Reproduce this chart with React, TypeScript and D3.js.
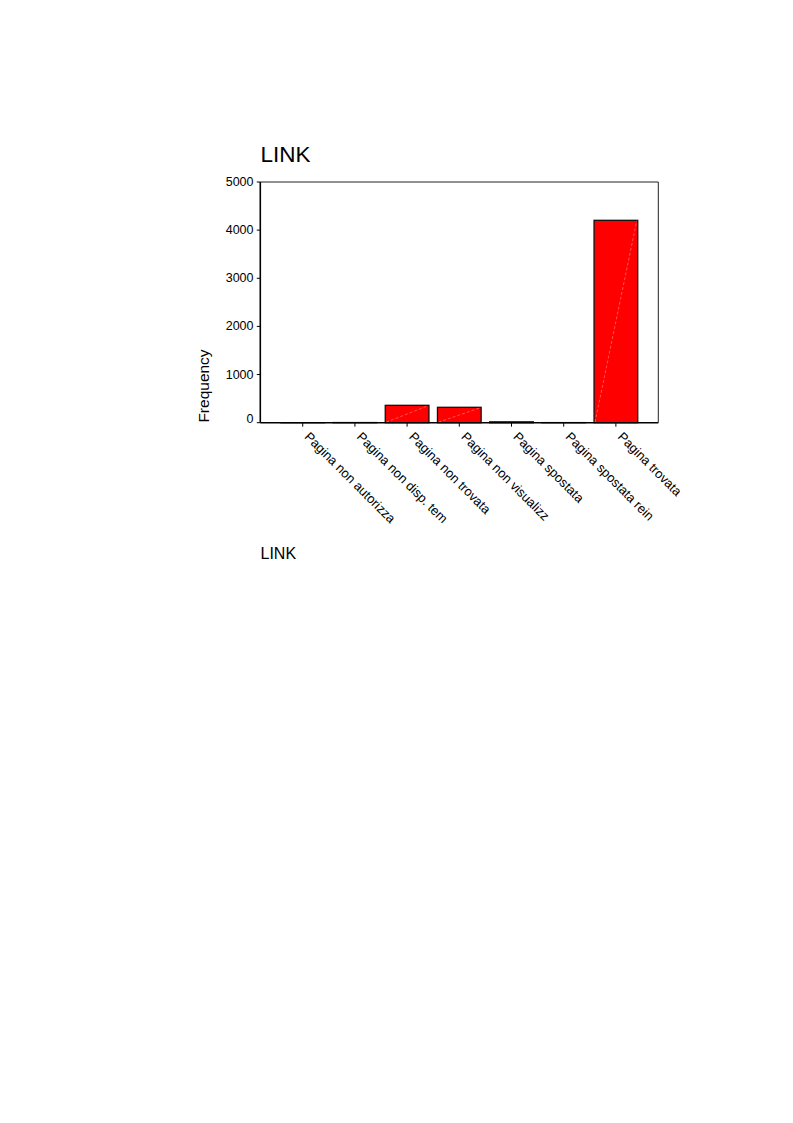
import React from "react";
import * as d3 from "d3";

const categories = [
  "Pagina non autorizza",
  "Pagina non disp. tem",
  "Pagina non trovata",
  "Pagina non visualizz",
  "Pagina spostata",
  "Pagina spostata rein",
  "Pagina trovata",
];
const frequencies = [1, 3, 361, 320, 18, 2, 4204];
const yTicks = [0, 1000, 2000, 3000, 4000, 5000];
const title = "LINK";
const xTitle = "LINK";
const yTitle = "Frequency";

const W = 793;
const H = 1123;
const left = 260.3;
const right = 658.3;
const top = 182;
const bottom = 422.7;
const font = "'Liberation Sans', Arial, sans-serif";

export default function App() {
  const x = d3
    .scaleBand<string>()
    .domain(categories)
    .range([left, right])
    .paddingInner(0.163)
    .paddingOuter(0.394);
  const y = d3.scaleLinear().domain([0, 5000]).range([bottom, top]);

  return (
    <svg
      width={W}
      height={H}
      style={{ position: "absolute", left: 0, top: 0, background: "#fff" }}
      fontFamily={font}
    >
      <text x={260.5} y={162} fontSize={22.5} fill="#000">
        {title}
      </text>

      {/* frame top & right */}
      <line x1={left} x2={right} y1={top} y2={top} stroke="#222" strokeWidth={1} />
      <line x1={right} x2={right} y1={top} y2={bottom} stroke="#222" strokeWidth={1} />

      {/* bars */}
      {categories.map((c, i) => {
        const bx = x(c)!;
        const bw = x.bandwidth();
        const by = y(frequencies[i]);
        const bh = bottom - by;
        return (
          <g key={c}>
            <rect x={bx} y={by} width={bw} height={bh} fill="#ff0000" stroke="#111" strokeWidth={1.3} />
            {bh > 4 && (
              <line
                x1={bx + 1}
                y1={bottom - 0.5}
                x2={bx + bw - 1}
                y2={by + 0.5}
                stroke="#ff8c8c"
                strokeWidth={0.6}
                strokeDasharray="3 2"
              />
            )}
          </g>
        );
      })}

      {/* axes */}
      <line x1={left} x2={left} y1={top} y2={bottom} stroke="#000" strokeWidth={1.6} />
      <line x1={left} x2={right} y1={bottom} y2={bottom} stroke="#000" strokeWidth={1.6} />

      {/* y ticks */}
      {yTicks.map((t) => (
        <g key={t}>
          <line x1={left - 3.5} x2={left} y1={y(t)} y2={y(t)} stroke="#000" strokeWidth={1} />
          <text
            x={253.5}
            y={y(t) - (t === 0 ? 4 : 0)}
            textAnchor="end"
            dominantBaseline="central"
            fontSize={12.5}
            fill="#000"
          >
            {t}
          </text>
        </g>
      ))}

      {/* x ticks */}
      {categories.map((c) => {
        const cx = x(c)! + x.bandwidth() / 2;
        return (
          <g key={c}>
            <line x1={cx} x2={cx} y1={bottom} y2={bottom + 4} stroke="#000" strokeWidth={1} />
            <text
              transform={`translate(${cx + 8},${bottom + 8}) rotate(45)`}
              dy="0.75em"
              fontSize={13}
              fill="#000"
            >
              {c}
            </text>
          </g>
        );
      })}

      <text
        transform={`translate(209,386) rotate(-90)`}
        textAnchor="middle"
        fontSize={15.5}
        fill="#000"
      >
        {yTitle}
      </text>

      <text x={260.5} y={558.5} fontSize={16} fill="#000">
        {xTitle}
      </text>
    </svg>
  );
}
